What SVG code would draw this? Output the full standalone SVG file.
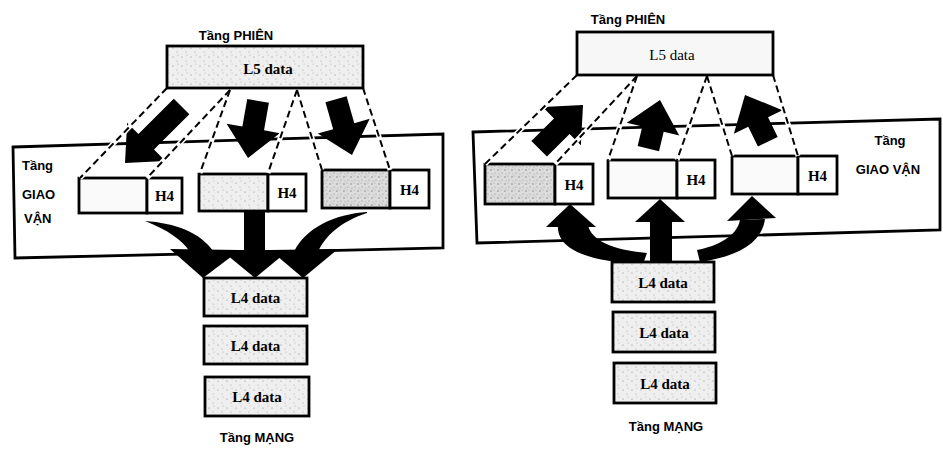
<svg xmlns="http://www.w3.org/2000/svg" width="943" height="453" viewBox="0 0 943 453">
<defs>
<pattern id="sp" width="9" height="9" patternUnits="userSpaceOnUse"><rect width="9" height="9" fill="#efefef"/><circle cx="2" cy="3" r="0.6" fill="#8a8a8a"/><circle cx="6" cy="7" r="0.5" fill="#9a9a9a"/><circle cx="7" cy="1" r="0.5" fill="#aaa"/></pattern>
<pattern id="sp2" width="7" height="7" patternUnits="userSpaceOnUse"><rect width="7" height="7" fill="#dcdcdc"/><circle cx="1" cy="2" r="0.7" fill="#777"/><circle cx="5" cy="5" r="0.6" fill="#888"/><circle cx="4" cy="1" r="0.5" fill="#999"/><circle cx="2" cy="6" r="0.5" fill="#999"/></pattern>
<style>
.box{stroke:#000;stroke-width:2.8;}
.big{fill:#fff;stroke:#000;stroke-width:2.8;}
.lite{fill:url(#sp);}
.dark{fill:url(#sp2);}
.white{fill:#fafafa;}
.h4{fill:#fff;stroke:#000;stroke-width:2.8;}
.ser{font-family:"Liberation Serif","DejaVu Serif",serif;font-weight:bold;font-size:15px;text-anchor:middle;fill:#000;}
.serN{font-family:"Liberation Serif","DejaVu Serif",serif;font-size:15px;text-anchor:middle;fill:#000;}
.sans{font-family:"Liberation Sans","DejaVu Sans",sans-serif;font-weight:bold;font-size:13px;fill:#000;}
.mid{text-anchor:middle;}
.halo{stroke:#fff;stroke-width:5;fill:none;}
.dash{stroke:#000;stroke-width:2;stroke-dasharray:7 4;fill:none;}
.blk{fill:#000;}
</style>
</defs>

<!-- LEFT DIAGRAM -->
<g id="left-transport-layer">
<polygon class="big" points="13,147 443,134 443,248 15,258"/>
<text class="sans" x="22" y="170">Tầng</text>
<text class="sans" x="22" y="199">GIAO</text>
<text class="sans" x="24" y="223">VẬN</text>
</g>
<g id="left-seg1">
<rect class="box white" x="79" y="178" width="68" height="35"/>
<rect class="h4" x="147" y="178" width="35" height="35"/>
<text class="ser" x="164.5" y="201">H4</text>
</g>
<g id="left-seg2">
<rect class="box lite" x="199" y="174" width="69" height="37"/>
<rect class="h4" x="268" y="174" width="38" height="37"/>
<text class="ser" x="287" y="198">H4</text>
</g>
<g id="left-seg3">
<rect class="box dark" x="322" y="170" width="68" height="38"/>
<rect class="h4" x="390" y="170" width="39" height="38"/>
<text class="ser" x="409.5" y="195">H4</text>
</g>

<g id="left-connectors">
<path class="blk" transform="translate(125,163) rotate(45)" d="M0,0 L-27,-30 L-11,-30 L-11,-80 L11,-80 L11,-30 L27,-30 Z"/>
<path class="blk" transform="translate(248,158) rotate(10)" d="M0,0 L-27,-30 L-11,-30 L-11,-58 L11,-58 L11,-30 L27,-30 Z"/>
<path class="blk" transform="translate(352,155) rotate(-16)" d="M0,0 L-27,-30 L-11,-30 L-11,-58 L11,-58 L11,-30 L27,-30 Z"/>
<g>
<line class="halo" x1="167" y1="88" x2="80" y2="178"/>
<line class="halo" x1="230" y1="90" x2="147" y2="178"/>
<line class="halo" x1="230" y1="90" x2="200" y2="173"/>
<line class="halo" x1="297" y1="90" x2="268" y2="173"/>
<line class="halo" x1="297" y1="90" x2="322" y2="170"/>
<line class="halo" x1="363" y1="88" x2="390" y2="170"/>
<line class="dash" x1="167" y1="88" x2="80" y2="178"/>
<line class="dash" x1="230" y1="90" x2="147" y2="178"/>
<line class="dash" x1="230" y1="90" x2="200" y2="173"/>
<line class="dash" x1="297" y1="90" x2="268" y2="173"/>
<line class="dash" x1="297" y1="90" x2="322" y2="170"/>
<line class="dash" x1="363" y1="88" x2="390" y2="170"/>
</g>
<path class="blk" d="M145,221 C175,223 200,232 214,252 L190,252 C182,240 168,230 145,221 Z"/>
<polygon class="blk" points="170,249 240,250 203,278"/>
<rect class="blk" x="244" y="211" width="21" height="42"/>
<polygon class="blk" points="221,250 289,250 255,278"/>
<path class="blk" d="M367,212 C335,214 305,228 294,252 L318,252 C325,236 340,222 367,213 Z"/>
<polygon class="blk" points="270,250 338,249 303,278"/>
</g>

<g id="left-session">
<text class="sans mid" x="236" y="40">Tầng PHIÊN</text>
<rect class="box lite" x="167" y="46" width="196" height="42"/>
<text class="ser" x="268" y="74">L5 data</text>
</g>

<g id="left-net1"><rect class="box lite" x="204" y="278" width="103" height="38"/><text class="ser" x="255.5" y="303">L4 data</text></g>
<g id="left-net2"><rect class="box lite" x="204" y="326" width="103" height="38"/><text class="ser" x="255.5" y="351">L4 data</text></g>
<g id="left-net3"><rect class="box lite" x="205" y="377" width="104" height="39"/><text class="ser" x="257" y="402">L4 data</text></g>
<text class="sans mid" x="257" y="442">Tầng MẠNG</text>

<!-- RIGHT DIAGRAM -->
<g id="right-transport-layer">
<polygon class="big" points="473,132 940,119 940,230 477,243"/>
<text class="sans mid" x="890" y="145">Tầng</text>
<text class="sans mid" x="888" y="174">GIAO VẬN</text>
</g>
<g id="right-seg1">
<rect class="box dark" x="485" y="164" width="70" height="40"/>
<rect class="h4" x="555" y="164" width="38" height="40"/>
<text class="ser" x="574" y="190">H4</text>
</g>
<g id="right-seg2">
<rect class="box white" x="608" y="160" width="69" height="38"/>
<rect class="h4" x="677" y="160" width="38" height="38"/>
<text class="ser" x="696" y="185">H4</text>
</g>
<g id="right-seg3">
<rect class="box white" x="732" y="156" width="66" height="38"/>
<rect class="h4" x="798" y="156" width="39" height="38"/>
<text class="ser" x="817.5" y="181">H4</text>
</g>

<g id="right-connectors">
<path class="blk" transform="translate(583,105) rotate(-135)" d="M0,0 L-27,-30 L-11,-30 L-11,-62 L11,-62 L11,-30 L27,-30 Z"/>
<path class="blk" transform="translate(660,100) rotate(193.5)" d="M0,0 L-27,-30 L-11,-30 L-11,-50 L11,-50 L11,-30 L27,-30 Z"/>
<path class="blk" transform="translate(745,95) rotate(154)" d="M0,0 L-27,-30 L-11,-30 L-11,-52 L11,-52 L11,-30 L27,-30 Z"/>
<g>
<line class="halo" x1="577" y1="75" x2="485" y2="164"/>
<line class="halo" x1="637" y1="76" x2="555" y2="164"/>
<line class="halo" x1="637" y1="76" x2="608" y2="160"/>
<line class="halo" x1="707" y1="76" x2="677" y2="160"/>
<line class="halo" x1="707" y1="76" x2="732" y2="156"/>
<line class="halo" x1="773" y1="75" x2="798" y2="156"/>
<line class="dash" x1="577" y1="75" x2="485" y2="164"/>
<line class="dash" x1="637" y1="76" x2="555" y2="164"/>
<line class="dash" x1="637" y1="76" x2="608" y2="160"/>
<line class="dash" x1="707" y1="76" x2="677" y2="160"/>
<line class="dash" x1="707" y1="76" x2="732" y2="156"/>
<line class="dash" x1="773" y1="75" x2="798" y2="156"/>
</g>
<polygon class="blk" points="546,227 596,227 570,204"/>
<path class="blk" d="M558,225 C556,250 590,262 643,264 L647,253 C612,250 591,240 588,225 Z"/>
<rect class="blk" x="650" y="220" width="22" height="43"/>
<polygon class="blk" points="635,222 685,222 660,199"/>
<polygon class="blk" points="727,221 776,218 752,196"/>
<path class="blk" d="M765,219 C762,242 740,256 700,262 L697,250 C718,246 737,236 740,220 Z"/>
</g>

<g id="right-session">
<text class="sans mid" x="628" y="24">Tầng PHIÊN</text>
<rect class="box" fill="#f7f7f7" x="577" y="32" width="196" height="43"/>
<text class="serN" x="672" y="60">L5 data</text>
</g>

<g id="right-net1"><rect class="box lite" x="612" y="262" width="102" height="40"/><text class="ser" x="663" y="288">L4 data</text></g>
<g id="right-net2"><rect class="box lite" x="613" y="312" width="102" height="40"/><text class="ser" x="664" y="338">L4 data</text></g>
<g id="right-net3"><rect class="box lite" x="614" y="363" width="102" height="40"/><text class="ser" x="665" y="389">L4 data</text></g>
<text class="sans mid" x="666" y="431">Tầng MẠNG</text>
</svg>
